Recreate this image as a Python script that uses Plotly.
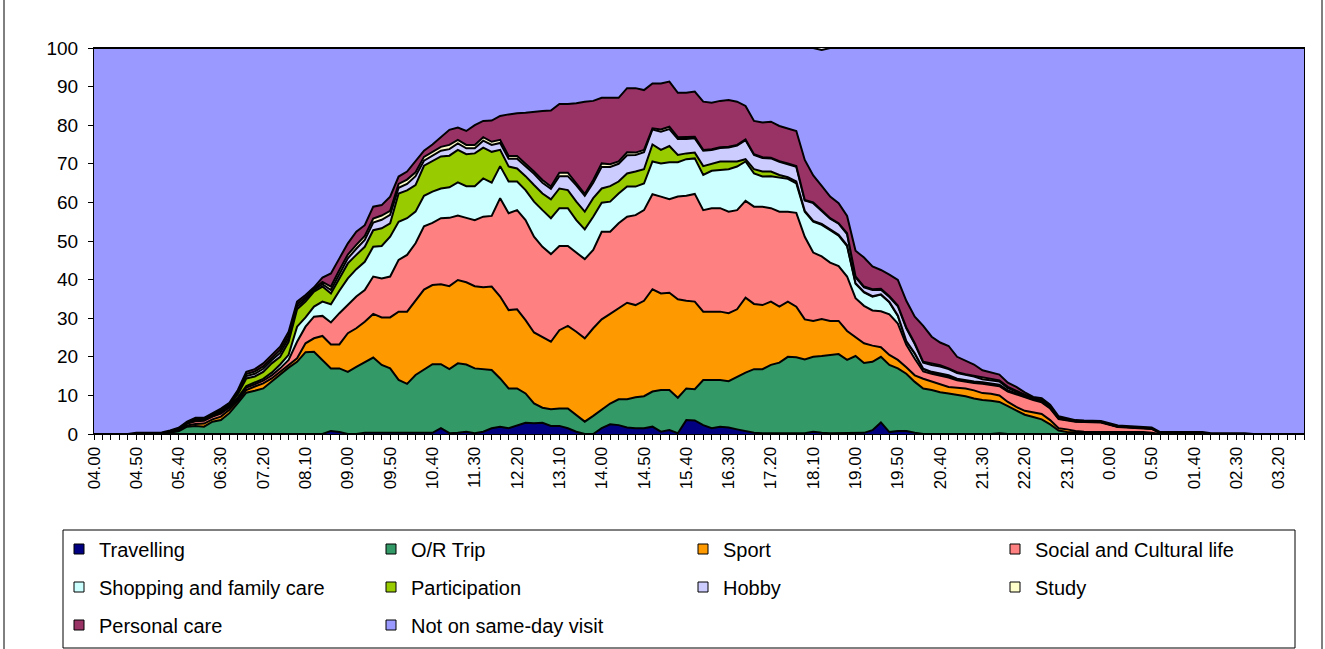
import plotly.graph_objects as go

# ---- categories: 10-minute slots from 04.00 to 03.50 ----
categories = []
for k in range(144):
    total_min = (4 * 60 + 10 * k) % (24 * 60)
    h, m = divmod(total_min, 60)
    categories.append(f"0.{m:02d}" if h == 0 else f"{h:02d}.{m:02d}")
tick_text = [c if i % 5 == 0 else "" for i, c in enumerate(categories)]

# ---- series values (percent), rows of 12 slots = 2 hours ----
travelling = [
    0, 0, 0, 0, 0, 0, 0, 0, 0, 0, 0, 0,
    0, 0, 0, 0, 0, 0, 0, 0, 0, 0, 0, 0,
    0, 0, 0, 0, 0.8, 0.5, 0, 0, 0.3, 0.3, 0.3, 0.3,
    0.3, 0.3, 0.3, 0.3, 0.3, 1.5, 0.2, 0.3, 0.6, 0.2, 0.6, 1.5,
    1.9, 1.5, 2.1, 2.9, 2.8, 2.9, 2.1, 2.1, 1.5, 0.6, 0, 0,
    1.5, 2.5, 2.3, 1.7, 1.5, 1.5, 1.9, 0.6, 1.0, 0.2, 3.6, 3.5,
    2.3, 1.5, 1.9, 1.7, 1.2, 0.8, 0.3, 0.2, 0.2, 0.2, 0.2, 0.2,
    0.2, 0.6, 0.3, 0.2, 0.2, 0.2, 0.3, 0.3, 1.0, 3.0, 0.5, 0.8,
    0.8, 0.3, 0, 0, 0, 0, 0, 0.1, 0, 0, 0, 0.2,
    0, 0, 0, 0, 0, 0, 0, 0, 0, 0, 0, 0,
    0, 0, 0, 0, 0, 0, 0, 0, 0, 0, 0, 0,
    0, 0, 0, 0, 0, 0, 0, 0, 0, 0, 0, 0,
]
or_trip = [
    0, 0, 0, 0, 0, 0.2, 0.2, 0.2, 0.3, 0.4, 0.7, 1.9,
    2.1, 1.9, 3.2, 3.6, 5.4, 8.0, 10.7, 11.2, 11.8, 13.6, 15.5, 17.2,
    18.7, 21.2, 21.3, 19.2, 16.2, 16.5, 16.1, 17.4, 18.2, 19.5, 17.6, 16.7,
    13.7, 12.7, 15.0, 16.5, 17.8, 16.6, 16.6, 18.0, 17.4, 16.8, 16.2, 15.1,
    12.5, 10.3, 9.7, 7.6, 5.1, 3.9, 4.3, 4.5, 5.1, 4.3, 3.2, 4.7,
    4.9, 5.4, 6.7, 7.3, 8.0, 8.3, 9.1, 10.8, 10.4, 9.2, 8.2, 8.1,
    11.7, 12.5, 12.1, 12.0, 13.7, 15.1, 16.5, 16.6, 17.7, 18.3, 19.8, 19.7,
    19.1, 19.4, 19.9, 20.2, 20.5, 19.0, 19.9, 18.1, 17.7, 17.0, 17.4, 16.2,
    14.8, 13.2, 11.8, 11.4, 10.8, 10.5, 10.2, 9.7, 9.2, 8.8, 8.6, 8.1,
    7.2, 6.2, 5.0, 4.4, 3.8, 2.5, 0.9, 0.5, 0.4, 0.4, 0.4, 0.4,
    0.4, 0.4, 0.4, 0.4, 0.4, 0.2, 0, 0, 0, 0, 0, 0,
    0, 0, 0, 0, 0, 0, 0, 0, 0, 0, 0, 0,
]
sport = [
    0, 0, 0, 0, 0, 0, 0, 0, 0, 0.1, 0.2, 0.3,
    0.5, 0.8, 0.6, 0.9, 0.9, 0.6, 0.7, 1.1, 1.3, 0.8, 0.6, 0.7,
    0.9, 2.3, 3.5, 6.2, 6.2, 6.2, 10.0, 10.0, 10.6, 11.3, 12.3, 13.2,
    17.7, 18.7, 19.4, 20.6, 20.5, 20.7, 21.5, 21.6, 21.3, 21.3, 21.2, 21.6,
    21.2, 20.3, 20.5, 19.0, 18.4, 18.4, 17.5, 20.3, 21.4, 21.6, 21.6, 22.7,
    23.3, 23.2, 23.6, 25.0, 23.9, 24.7, 26.5, 25.0, 25.2, 25.5, 22.7, 22.7,
    17.7, 17.7, 17.7, 17.6, 17.4, 19.4, 16.9, 16.6, 16.4, 14.5, 14.3, 13.1,
    10.4, 9.3, 9.6, 8.9, 8.6, 7.5, 4.8, 5.1, 4.2, 2.5, 2.6, 2.2,
    1.7, 1.7, 2.5, 2.2, 2.3, 1.7, 1.8, 2.0, 2.1, 1.8, 1.8, 1.7,
    1.1, 0.8, 1.0, 1.2, 1.4, 1.1, 0.6, 0.7, 0.4, 0.2, 0.1, 0.1,
    0.1, 0.1, 0.1, 0.1, 0.1, 0.1, 0, 0, 0, 0, 0, 0,
    0, 0, 0, 0, 0, 0, 0, 0, 0, 0, 0, 0,
]
social_cultural = [
    0, 0, 0, 0, 0, 0, 0, 0, 0, 0.1, 0.2, 0.5,
    0.7, 0.7, 0.7, 0.8, 0.6, 0.6, 0.6, 0.6, 0.7, 0.8, 0.9, 1.3,
    4.3, 4.3, 5.6, 5.2, 5.7, 8.1, 7.3, 8.2, 8.2, 9.7, 10.1, 10.6,
    13.4, 14.7, 14.7, 16.4, 16.1, 17.1, 17.7, 16.7, 16.7, 17.1, 18.3, 18.3,
    25.5, 25.1, 25.7, 25.9, 24.8, 23.3, 22.7, 21.8, 20.7, 20.5, 20.5, 20.3,
    22.7, 21.3, 22.0, 22.3, 23.3, 23.5, 24.6, 25.1, 24.2, 26.6, 27.2, 27.9,
    26.3, 26.8, 26.8, 26.3, 25.7, 25.1, 25.2, 25.5, 24.2, 24.6, 23.3, 24.3,
    21.4, 17.7, 16.2, 15.1, 14.2, 14.1, 10.2, 9.7, 9.1, 9.3, 10.5, 9.4,
    5.8, 4.3, 1.9, 2.0, 2.0, 2.4, 1.9, 1.7, 1.9, 2.4, 2.3, 2.4,
    2.7, 3.2, 3.4, 3.2, 3.0, 3.0, 2.4, 2.4, 2.4, 2.5, 2.6, 2.5,
    1.9, 1.3, 1.2, 1.1, 0.9, 1.0, 0.2, 0.2, 0.2, 0.2, 0.2, 0.2,
    0, 0, 0, 0, 0, 0, 0, 0, 0, 0, 0, 0,
]
shopping_family = [
    0, 0, 0, 0, 0, 0, 0, 0, 0, 0, 0.1, 0.1,
    0.2, 0.2, 0.2, 0.3, 0.3, 0.3, 0.4, 0.4, 0.5, 0.7, 1.0, 1.3,
    3.9, 2.4, 2.6, 3.7, 4.7, 5.8, 6.9, 7.1, 7.3, 7.7, 8.4, 10.3,
    9.9, 9.5, 8.2, 7.9, 8.1, 7.7, 7.9, 8.6, 8.2, 8.8, 9.9, 8.6,
    8.3, 8.2, 7.4, 7.8, 9.1, 9.5, 9.3, 9.8, 9.8, 8.4, 7.7, 8.6,
    7.5, 7.8, 7.7, 7.8, 7.4, 6.9, 8.5, 8.6, 9.6, 8.9, 9.5, 9.2,
    9.1, 9.7, 9.9, 11.0, 11.3, 10.2, 8.6, 7.8, 8.3, 8.8, 8.5, 7.6,
    6.5, 8.0, 8.2, 8.4, 7.9, 7.9, 3.7, 3.5, 3.6, 4.3, 3.1, 2.0,
    0.9, 1.3, 0.6, 0.4, 0.4, 0.3, 0.3, 0.3, 0.3, 0.3, 0.3, 0.3,
    0.2, 0.2, 0.2, 0.2, 0.2, 0.2, 0.1, 0.1, 0.1, 0.1, 0.1, 0.1,
    0.1, 0.1, 0.1, 0.1, 0.1, 0.1, 0.1, 0.1, 0.1, 0.1, 0.1, 0.1,
    0, 0, 0, 0, 0, 0, 0, 0, 0, 0, 0, 0,
]
participation = [
    0, 0, 0, 0, 0, 0, 0, 0, 0, 0, 0.1, 0.1,
    0.2, 0.2, 0.2, 0.4, 0.3, 0.8, 2.0, 1.6, 1.8, 2.4, 2.0, 3.4,
    4.5, 4.1, 3.9, 3.9, 2.8, 3.2, 3.9, 3.7, 3.9, 4.3, 4.6, 3.5,
    7.3, 7.2, 6.9, 7.8, 7.8, 8.3, 8.2, 8.4, 8.3, 8.5, 8.0, 8.0,
    4.2, 3.9, 3.4, 3.6, 4.3, 4.3, 4.9, 5.1, 4.7, 4.8, 4.6, 4.8,
    3.7, 4.0, 3.1, 3.4, 3.9, 3.7, 4.4, 3.5, 4.2, 1.9, 1.5, 1.5,
    2.3, 1.9, 2.2, 2.0, 1.3, 0.6, 1.1, 1.3, 1.2, 0.7, 0.4, 0.5,
    0.2, 0.2, 0.2, 0.2, 0.2, 0.2, 0.2, 0.1, 0.1, 0.1, 0.1, 0.1,
    0.1, 0.1, 0.1, 0.1, 0.1, 0.3, 0.1, 0.1, 0.1, 0.1, 0.1, 0.1,
    0.1, 0.1, 0.1, 0.1, 0.1, 0.1, 0.1, 0.1, 0, 0, 0, 0,
    0, 0, 0, 0, 0, 0, 0, 0, 0, 0, 0, 0,
    0, 0, 0, 0, 0, 0, 0, 0, 0, 0, 0, 0,
]
hobby = [
    0, 0, 0, 0, 0, 0, 0, 0, 0, 0, 0, 0.1,
    0.2, 0.1, 0.2, 0.2, 0.2, 0.4, 0.6, 0.7, 0.8, 0.8, 1.0, 0.9,
    0.7, 0.6, 0.4, 0.6, 0.9, 1.2, 1.3, 1.6, 1.8, 2.0, 2.2, 2.2,
    1.5, 1.7, 2.3, 1.3, 1.4, 1.5, 1.7, 1.7, 1.5, 1.3, 1.8, 1.8,
    1.8, 2.0, 2.5, 2.6, 2.9, 2.8, 2.7, 3.2, 3.6, 4.2, 4.1, 4.0,
    5.6, 5.0, 4.6, 4.7, 4.3, 4.4, 3.9, 4.7, 4.4, 4.1, 3.7, 3.7,
    4.0, 3.5, 3.5, 3.6, 4.1, 4.9, 3.7, 3.5, 3.4, 3.4, 3.4, 3.8,
    2.7, 4.6, 3.4, 2.8, 2.9, 2.9, 1.5, 1.2, 1.6, 1.2, 1.3, 2.4,
    3.3, 2.4, 1.6, 1.8, 1.9, 1.6, 1.5, 1.4, 1.3, 0.8, 0.8, 0.8,
    0.6, 0.4, 0.3, 0.2, 0.2, 0.2, 0.1, 0.1, 0.1, 0.1, 0.1, 0.1,
    0.1, 0.1, 0.1, 0.1, 0.1, 0.1, 0.1, 0.1, 0.1, 0.1, 0.1, 0.1,
    0.1, 0.1, 0.1, 0.1, 0.1, 0, 0, 0, 0, 0, 0, 0,
]
study = [
    0, 0, 0, 0, 0, 0, 0, 0, 0, 0, 0, 0.1,
    0.1, 0.1, 0.1, 0.2, 0.2, 0.3, 0.5, 0.6, 0.6, 0.6, 0.8, 0.8,
    0.6, 0.5, 0.3, 0.6, 0.9, 1.0, 1.0, 1.0, 1.0, 1.0, 1.1, 1.0,
    1.0, 1.1, 1.0, 1.0, 1.1, 1.0, 1.1, 0.9, 0.9, 0.9, 0.9, 0.8,
    0.8, 0.7, 0.7, 0.7, 0.6, 0.7, 0.6, 0.9, 0.9, 0.5, 0.5, 0.7,
    0.9, 0.7, 0.6, 0.8, 0.6, 0.6, 0.3, 0.6, 0.6, 0.5, 0.5, 0.4,
    0.2, 0.2, 0.2, 0.2, 0.2, 0.2, 0.2, 0.2, 0.2, 0.2, 0.2, 0.2,
    0.1, 0.2, 0.2, 0.1, 0.1, 0.2, 0.2, 0.2, 0.2, 0.2, 0.2, 0.2,
    0.2, 0.2, 0.2, 0.3, 0.3, 0.2, 0.2, 0.2, 0.2, 0.4, 0.3, 0.3,
    0.3, 0.2, 0.2, 0.1, 0.1, 0.1, 0.1, 0.1, 0.1, 0.1, 0.1, 0.1,
    0.1, 0.1, 0.1, 0.1, 0.1, 0.1, 0, 0, 0, 0, 0, 0,
    0, 0, 0, 0, 0, 0, 0, 0, 0, 0, 0, 0,
]
personal_care = [
    0, 0, 0, 0, 0, 0.1, 0.1, 0.1, 0.1, 0.3, 0.3, 0.1,
    0.2, 0.2, 0.2, 0.2, 0.2, 0.4, 0.6, 0.6, 0.8, 0.8, 0.8, 0.9,
    0.7, 0.6, 0.4, 1.1, 3.4, 3.0, 2.9, 3.4, 2.8, 3.1, 2.7, 3.7,
    1.9, 2.1, 2.8, 1.6, 1.9, 2.6, 3.9, 3.2, 3.6, 5.1, 4.2, 5.5,
    6.2, 10.8, 11.1, 13.1, 15.5, 17.9, 19.7, 17.8, 17.8, 20.8, 23.9, 20.5,
    17.0, 17.2, 16.5, 16.6, 16.7, 15.5, 11.6, 11.9, 11.7, 11.5, 11.5, 11.7,
    12.5, 12.0, 12.0, 12.1, 11.2, 8.7, 8.6, 9.0, 9.3, 9.1, 9.1, 9.1,
    10.4, 7.0, 6.3, 5.6, 5.2, 4.5, 6.7, 7.5, 5.9, 4.9, 5.6, 6.6,
    6.9, 6.9, 9.3, 7.0, 5.9, 5.8, 4.0, 3.5, 2.9, 1.9, 1.8, 1.5,
    1.1, 1.1, 0.6, 0.2, 0.5, 0.4, 0.3, 0.2, 0.1, 0.1, 0.1, 0.1,
    0.1, 0.1, 0.1, 0.1, 0.1, 0.1, 0.1, 0.1, 0.1, 0.1, 0.1, 0.1,
    0.1, 0.1, 0.1, 0.1, 0.1, 0, 0, 0, 0, 0, 0, 0,
]
not_same_day = [
    100, 100, 100, 100, 100, 99.7, 99.7, 99.7, 99.6, 99.1, 98.4, 96.8,
    95.8, 95.8, 94.6, 93.4, 91.9, 88.6, 83.9, 83.2, 81.7, 79.5, 77.4, 73.5,
    65.7, 64.0, 62.0, 59.5, 58.4, 54.5, 50.6, 47.6, 45.9, 41.1, 40.7, 38.5,
    33.3, 32.0, 29.4, 26.6, 25.0, 23.0, 21.2, 20.6, 21.5, 20.0, 18.9, 18.8,
    17.6, 17.2, 16.9, 16.8, 16.5, 16.3, 16.2, 14.5, 14.5, 14.3, 13.9, 13.7,
    12.9, 12.9, 12.9, 10.4, 10.4, 10.9, 9.2, 9.2, 8.7, 11.6, 11.6, 11.3,
    13.9, 14.2, 13.7, 13.5, 13.9, 15.0, 18.9, 19.3, 19.1, 20.2, 20.8, 21.5,
    29.0, 33.0, 35.2, 38.5, 40.2, 43.5, 52.5, 54.3, 56.6, 57.5, 58.7, 60.1,
    65.5, 69.6, 72.0, 74.8, 76.3, 77.2, 80.0, 81.0, 82.0, 83.5, 84.0, 84.6,
    86.7, 87.8, 89.2, 90.4, 90.7, 92.4, 95.4, 95.8, 96.4, 96.5, 96.5, 96.6,
    97.2, 97.8, 97.9, 98.0, 98.2, 98.3, 99.5, 99.5, 99.5, 99.5, 99.5, 99.5,
    99.8, 99.8, 99.8, 99.8, 99.8, 100, 100, 100, 100, 100, 100, 100,
]

series_names = ["Travelling", "O/R Trip", "Sport", "Social and Cultural life",
                "Shopping and family care", "Participation", "Hobby", "Study",
                "Personal care", "Not on same-day visit"]
series_values = [travelling, or_trip, sport, social_cultural, shopping_family,
                 participation, hobby, study, personal_care, not_same_day]
series_colors = ["#000080", "#339966", "#FF9900", "#FF8080", "#CCFFFF",
                 "#99CC00", "#CCCCFF", "#FFFFCC", "#993366", "#9999FF"]

FONT = "Liberation Sans, Arial, sans-serif"

fig = go.Figure()
for name, vals, col in zip(series_names, series_values, series_colors):
    fig.add_trace(go.Scatter(
        x=categories, y=vals, name=name, stackgroup="one", mode="lines",
        line=dict(color="black", width=2), fillcolor=col,
        showlegend=False, hoverinfo="skip"))

# legend entries (Excel-like small square keys), one legend per row
legend_ids = ["legend", "legend", "legend", "legend",
              "legend2", "legend2", "legend2", "legend2",
              "legend3", "legend3"]
for name, col, lg in zip(series_names, series_colors, legend_ids):
    fig.add_trace(go.Scatter(
        x=[None], y=[None], name=name, mode="markers", legend=lg,
        marker=dict(symbol="square", size=10, color=col,
                    line=dict(color="black", width=1)),
        showlegend=True, hoverinfo="skip"))

L, R, T, B = 94, 1304, 48, 434
W, H = 1325, 649
def px(x):
    return (x - L) / (R - L)
def py(y):
    return (B - y) / (B - T)

legend_common = dict(orientation="h", entrywidth=267, entrywidthmode="pixels",
                     xanchor="left", yanchor="middle", x=px(59),
                     bgcolor="rgba(0,0,0,0)", borderwidth=0,
                     traceorder="normal",
                     font=dict(family=FONT, size=20, color="black"))

fig.update_layout(
    width=W, height=H, autosize=False,
    margin=dict(l=L, r=W - R, t=T, b=H - B, pad=0, autoexpand=False),
    paper_bgcolor="white", plot_bgcolor="white",
    font=dict(family=FONT, size=18, color="black"),
    legend=dict(**legend_common, y=py(549)),
    legend2=dict(**legend_common, y=py(587)),
    legend3=dict(**legend_common, y=py(625)),
    xaxis=dict(type="category", range=[0, len(categories) - 1],
               tickmode="array", tickvals=categories, ticktext=tick_text,
               tickangle=-90, ticks="outside", ticklen=5, tickcolor="black",
               tickfont=dict(family=FONT, size=17, color="black"),
               showline=True, linecolor="black", linewidth=1, mirror=True,
               showgrid=False, zeroline=False),
    yaxis=dict(range=[0, 100], tickmode="array",
               tickvals=[0, 10, 20, 30, 40, 50, 60, 70, 80, 90, 100],
               ticks="outside", ticklen=5, tickcolor="black",
               ticklabelstandoff=6,
               tickfont=dict(family=FONT, size=19, color="black"),
               showline=True, linecolor="black", linewidth=1, mirror=True,
               showgrid=False, zeroline=False),
    shapes=[
        dict(type="rect", xref="paper", yref="paper",
             x0=px(63), x1=px(1295), y0=py(648), y1=py(530),
             line=dict(color="black", width=1), fillcolor="rgba(0,0,0,0)",
             layer="below"),
        dict(type="line", xref="paper", yref="paper",
             x0=px(4), x1=px(4), y0=py(0), y1=py(649),
             line=dict(color="black", width=1)),
        dict(type="line", xref="paper", yref="paper",
             x0=px(1322), x1=px(1322), y0=py(0), y1=py(649),
             line=dict(color="black", width=1)),
    ],
)

fig.write_html(
    "out.html",
    config={"displayModeBar": False},
    post_script="document.body.style.margin='0px';"
                "document.body.style.overflow='hidden';",
)
